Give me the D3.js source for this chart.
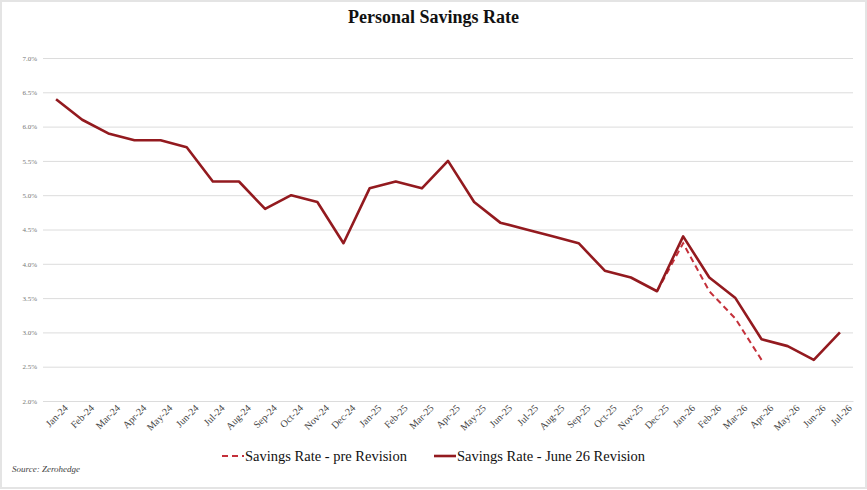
<!DOCTYPE html>
<html>
<head>
<meta charset="utf-8">
<script src="https://cdn.jsdelivr.net/npm/d3@7"></script>
<style>
  html, body { margin: 0; padding: 0; background: #fff; }
  svg { display: block; font-family: "Liberation Serif", "DejaVu Serif", serif; }
</style>
</head>
<body>
<div id="chart"></div>
<script>
// --- data ------------------------------------------------------------------
const months = [
    "Jan-24", "Feb-24", "Mar-24", "Apr-24", "May-24", "Jun-24", "Jul-24", "Aug-24",
    "Sep-24", "Oct-24", "Nov-24", "Dec-24", "Jan-25", "Feb-25", "Mar-25", "Apr-25",
    "May-25", "Jun-25", "Jul-25", "Aug-25", "Sep-25", "Oct-25", "Nov-25", "Dec-25",
    "Jan-26", "Feb-26", "Mar-26", "Apr-26", "May-26", "Jun-26", "Jul-26"
];
const juneRevision = [
    6.4, 6.1, 5.9, 5.8, 5.8, 5.7, 5.2, 5.2,
    4.8, 5.0, 4.9, 4.3, 5.1, 5.2, 5.1, 5.5,
    4.9, 4.6, 4.5, 4.4, 4.3, 3.9, 3.8, 3.6,
    4.4, 3.8, 3.5, 2.9, 2.8, 2.6, 3.0
];
// pre-revision series only differs from Dec-25 on
const preRevisionMonths = ["Dec-25", "Jan-26", "Feb-26", "Mar-26", "Apr-26"];
const preRevision = [3.6, 4.3, 3.6, 3.2, 2.6];
const yTicks = [2.0, 2.5, 3.0, 3.5, 4.0, 4.5, 5.0, 5.5, 6.0, 6.5, 7.0];

const seriesNames = ["Savings Rate - pre Revision", "Savings Rate - June 26 Revision"];

// --- canvas -----------------------------------------------------------------
const width = 867, height = 490;
const margin = { top: 58, right: 14, bottom: 89, left: 43 };
const innerW = width - margin.left - margin.right;
const innerH = height - margin.top - margin.bottom;

const svg = d3.select("#chart").append("svg")
    .attr("width", width).attr("height", height)
    .attr("viewBox", `0 0 ${width} ${height}`);

// light frame round the whole picture
svg.append("rect")
    .attr("x", 1).attr("y", 1).attr("width", width - 2).attr("height", height - 3)
    .attr("fill", "#fff").attr("stroke", "#e4e4e4").attr("stroke-width", 2);

svg.append("text")
    .attr("x", width / 2).attr("y", 23)
    .attr("text-anchor", "middle")
    .style("font-size", "18px").style("font-weight", "bold").style("fill", "#111")
    .text("Personal Savings Rate");

const plot = svg.append("g").attr("transform", `translate(${margin.left},${margin.top})`);

const x = d3.scalePoint().domain(months).range([0, innerW]).padding(0.5);
const y = d3.scaleLinear().domain([2, 7]).range([innerH, 0]);

// gridlines + y labels
const yAxis = d3.axisLeft(y).tickValues(yTicks)
    .tickFormat(d => d3.format(".1f")(d) + "%")
    .tickSize(-innerW).tickPadding(6);
plot.append("g").call(yAxis)
    .call(g => g.select(".domain").remove())
    .call(g => g.selectAll(".tick line").attr("stroke", "#dcdcdc").attr("stroke-width", 1))
    .call(g => g.selectAll(".tick text")
        .attr("fill", "#777").style("font-size", "7px")
        .style("font-family", "Liberation Serif, serif"));

// x labels, rotated
const xAxis = d3.axisBottom(x).tickSize(0).tickPadding(6);
plot.append("g").attr("transform", `translate(0,${innerH})`).call(xAxis)
    .call(g => g.select(".domain").attr("stroke", "#dcdcdc"))
    .call(g => g.selectAll(".tick text")
        .attr("text-anchor", "end")
        .attr("dx", "0.3em").attr("dy", "0.8em")
        .attr("transform", "rotate(-45)")
        .attr("fill", "#444").style("font-size", "10px")
        .style("font-family", "Liberation Serif, serif"));

const line = d3.line().x(d => x(d[0])).y(d => y(d[1]));

plot.append("path")
    .datum(d3.zip(preRevisionMonths, preRevision))
    .attr("fill", "none").attr("stroke", "#c4303a").attr("stroke-width", 2)
    .attr("stroke-dasharray", "6,4")
    .attr("d", line);

plot.append("path")
    .datum(d3.zip(months, juneRevision))
    .attr("fill", "none").attr("stroke", "#931a1f").attr("stroke-width", 2.6)
    .attr("stroke-linejoin", "round")
    .attr("d", line);

// legend
const legend = svg.append("g").attr("transform", "translate(222,456)");
legend.append("line").attr("x1", 0).attr("x2", 22).attr("y1", 0).attr("y2", 0)
    .attr("stroke", "#c4303a").attr("stroke-width", 2).attr("stroke-dasharray", "6,4");
legend.append("text").attr("x", 23).attr("y", 5)
    .style("font-size", "14.5px").style("fill", "#111").text(seriesNames[0]);
legend.append("line").attr("x1", 212).attr("x2", 234).attr("y1", 0).attr("y2", 0)
    .attr("stroke", "#931a1f").attr("stroke-width", 2.6);
legend.append("text").attr("x", 235).attr("y", 5)
    .style("font-size", "14.5px").style("fill", "#111").text(seriesNames[1]);

svg.append("text")
    .attr("x", 12).attr("y", 472)
    .style("font-size", "9px").style("font-style", "italic").style("fill", "#444")
    .text("Source: Zerohedge");
</script>
</body>
</html>
